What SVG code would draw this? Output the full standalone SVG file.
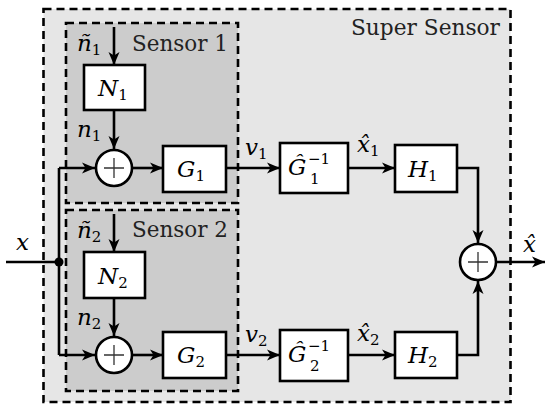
<svg xmlns="http://www.w3.org/2000/svg" width="545" height="407" viewBox="0 0 545 407">
<defs>
<marker id="arr" markerUnits="userSpaceOnUse" markerWidth="14" markerHeight="12" refX="13" refY="6" orient="auto">
<path d="M0,0.5 L13,6 L0,11.5 L3.5,6 z" fill="#000"/>
</marker>
<style>
text{font-family:'DejaVu Serif',serif}
.box{fill:#fff;stroke:#000;stroke-width:2.6}
.sum{fill:#fff;stroke:#000;stroke-width:2.6}
.plus{stroke:#333;stroke-width:1.3;fill:none}
.w{fill:none;stroke:#000;stroke-width:2.6}
.a{fill:none;stroke:#000;stroke-width:2.6;marker-end:url(#arr)}
.dash{stroke:#000;stroke-width:2.6;stroke-dasharray:8 5}
.t{font-size:23px;fill:#222}
.m{font-style:italic;font-size:23px;fill:#000}
.s{font-style:normal;font-size:15px;fill:#000}
</style>
</defs>
<g id="super-sensor">
<rect x="43.5" y="9" width="467" height="393" fill="#e6e6e6" class="dash"/>
<text class="t" x="500" y="35" text-anchor="end" textLength="149" lengthAdjust="spacingAndGlyphs">Super Sensor</text>
</g>
<g id="sensor1">
<rect x="66" y="23" width="172" height="180" fill="#cccccc" class="dash"/>
<text class="t" x="132" y="51" textLength="96" lengthAdjust="spacingAndGlyphs">Sensor 1</text>
</g>
<g id="sensor2">
<rect x="66" y="210" width="172" height="181" fill="#cccccc" class="dash"/>
<text class="t" x="132" y="237" textLength="96" lengthAdjust="spacingAndGlyphs">Sensor 2</text>
</g>
<g id="connectors">
<path class="a" d="M114,27 V65"/>
<path class="a" d="M114,110 V149"/>
<path class="a" d="M59,168 H95"/>
<path class="a" d="M133,168 H163"/>
<path class="a" d="M226,168 H280"/>
<path class="a" d="M348,168 H395"/>
<path class="a" d="M457,168 H478 V243"/>
<path class="a" d="M114,214 V252"/>
<path class="a" d="M114,298 V336"/>
<path class="a" d="M59,355 H95"/>
<path class="a" d="M133,355 H163"/>
<path class="a" d="M226,355 H280"/>
<path class="a" d="M348,355 H395"/>
<path class="a" d="M457,355 H478 V281"/>
<path class="a" d="M497,262 H545"/>
<path class="w" d="M6,262 H59"/>
<path class="w" d="M59,168 V355"/>
<circle cx="59" cy="262" r="4.5" fill="#000"/>
</g>
<g id="labels">
<text class="m" x="77" y="51">ñ<tspan class="s" dy="4">1</tspan></text>
<text class="m" x="77" y="137">n<tspan class="s" dy="4">1</tspan></text>
<text class="m" x="77" y="238">ñ<tspan class="s" dy="4">2</tspan></text>
<text class="m" x="77" y="325">n<tspan class="s" dy="4">2</tspan></text>
<text class="m" x="245" y="155">v<tspan class="s" dy="4">1</tspan></text>
<text class="m" x="245" y="342">v<tspan class="s" dy="4">2</tspan></text>
<text class="m" x="357" y="152">x̂<tspan class="s" dy="4">1</tspan></text>
<text class="m" x="357" y="341">x̂<tspan class="s" dy="4">2</tspan></text>
<text class="m" x="16" y="250">x</text>
<text class="m" x="523" y="252">x̂</text>
</g>
<g id="N1"><rect class="box" x="84" y="65" width="61" height="45"/><text class="m" x="98" y="96">N<tspan class="s" dy="4">1</tspan></text></g>
<g id="N2"><rect class="box" x="84" y="252" width="61" height="46"/><text class="m" x="98" y="284">N<tspan class="s" dy="4">2</tspan></text></g>
<g id="sum1"><circle class="sum" cx="114" cy="168" r="18"/><path class="plus" d="M104,168 H124 M114,158 V178"/></g>
<g id="sum2"><circle class="sum" cx="114" cy="355" r="18"/><path class="plus" d="M104,355 H124 M114,345 V365"/></g>
<g id="G1"><rect class="box" x="163" y="146" width="63" height="46"/><text class="m" x="177" y="177">G<tspan class="s" dy="4">1</tspan></text></g>
<g id="G2"><rect class="box" x="163" y="332" width="63" height="46"/><text class="m" x="177" y="363">G<tspan class="s" dy="4">2</tspan></text></g>
<g id="Ginv1"><rect class="box" x="280" y="143" width="68" height="50"/><text class="m" x="288" y="175">Ĝ</text><text class="s" x="308" y="164">−1</text><text class="s" x="310" y="184">1</text></g>
<g id="Ginv2"><rect class="box" x="280" y="330" width="68" height="51"/><text class="m" x="288" y="362">Ĝ</text><text class="s" x="308" y="351">−1</text><text class="s" x="310" y="371">2</text></g>
<g id="H1"><rect class="box" x="395" y="145" width="62" height="47"/><text class="m" x="408" y="177">H<tspan class="s" dy="4">1</tspan></text></g>
<g id="H2"><rect class="box" x="395" y="332" width="62" height="46"/><text class="m" x="408" y="363">H<tspan class="s" dy="4">2</tspan></text></g>
<g id="sum3"><circle class="sum" cx="478" cy="262" r="18"/><path class="plus" d="M468,262 H488 M478,252 V272"/></g>
</svg>
